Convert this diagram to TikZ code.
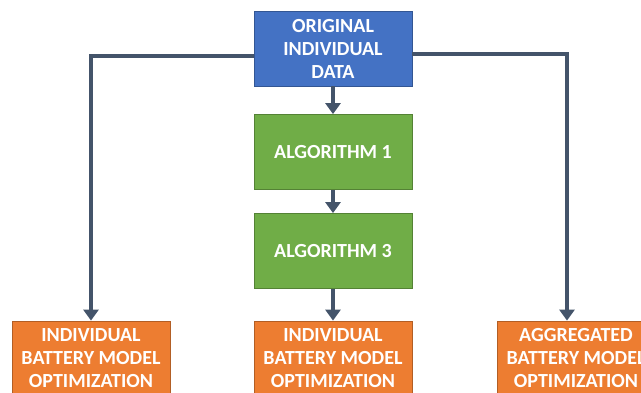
\documentclass[tikz,border=0pt]{standalone}
\usepackage{fontspec}
\setmainfont{Carlito}
\usetikzlibrary{arrows.meta}
\definecolor{blok}{HTML}{4472C4}
\definecolor{algo}{HTML}{70AD47}
\definecolor{opti}{HTML}{ED7D31}
\definecolor{lijn}{HTML}{44546A}
\tikzset{
    doos/.style={draw=#1!75!black, fill=#1, line width=0.8pt, minimum width=158pt, minimum height=75pt,
        align=center, text=white, font=\fontsize{20}{23}\selectfont\bfseries, inner sep=0pt},
    pijl/.style={draw=lijn, line width=4pt, -{Triangle[width=15pt,length=11pt]}}
}

\begin{document}
\begin{tikzpicture}[x=1pt,y=-1pt]
    \useasboundingbox (0,0) rectangle (641,392);
    \node[doos=blok] (orig) at (333,48.5) {ORIGINAL\\INDIVIDUAL\\DATA};
    \node[doos=algo] (alg1) at (333,152) {ALGORITHM 1};
    \node[doos=algo] (alg3) at (333,251) {ALGORITHM 3};
    \node[doos=opti] (optL) at (91,358.5) {INDIVIDUAL\\BATTERY MODEL\\OPTIMIZATION};
    \node[doos=opti] (optM) at (333,358.5) {INDIVIDUAL\\BATTERY MODEL\\OPTIMIZATION};
    \node[doos=opti] (optR) at (576,358.5) {AGGREGATED\\BATTERY MODEL\\OPTIMIZATION};
    \draw[pijl] (orig) -- (alg1);
    \draw[pijl] (alg1) -- (alg3);
    \draw[pijl] (alg3) -- (optM);
    \draw[pijl] ([yshift=-7pt]orig.west) -| (optL.north);
    \draw[pijl] ([yshift=-5pt]orig.east) -| ([xshift=-9pt]optR.north);
\end{tikzpicture}
\end{document}
